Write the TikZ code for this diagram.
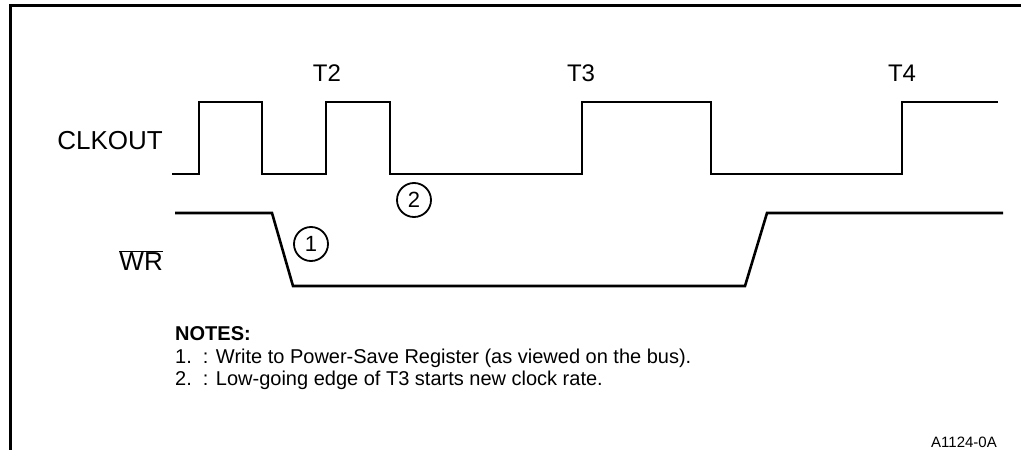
\documentclass[tikz,border=0pt]{standalone}
\usepackage{fontspec}
\setmainfont{Liberation Sans}
\begin{document}
\begin{tikzpicture}[x=1pt, y=-1pt,
  wave/.style={line width=2.6pt, line join=miter},
  frame/.style={line width=3pt},
  sig/.style={font=\fontsize{26}{30}\selectfont, anchor=base east, inner sep=0pt},
  tlab/.style={font=\fontsize{24}{28}\selectfont, anchor=base, inner sep=0pt},
  num/.style={draw, circle, line width=1.8pt, minimum size=34pt, inner sep=0pt,
              font=\fontsize{22}{26}\selectfont},
  note/.style={font=\fontsize{20}{24}\selectfont, anchor=base west, inner sep=0pt}]
  \useasboundingbox (0,0) rectangle (1021,450);
  % frame, only left and top edges show
  \draw[frame] (10,450) -- (10,5) -- (1021,5);
  % signal names
  \node[sig] (clk) at (163,149) {CLKOUT};
  \node[sig] (wr) at (163,270) {$\overline{\mbox{WR}}$};
  % clock states
  \foreach \x/\t in {327/T2, 581/T3, 902/T4}
    \node[tlab] (\t) at (\x,81) {\t};
  % CLKOUT waveform
  \draw[wave] (172,174) -- (199,174) -- (199,102) -- (262,102) -- (262,174)
    -- (326,174) -- (326,102) -- (390,102) -- (390,174)
    -- (582,174) -- (582,102) -- (711,102) -- (711,174)
    -- (902,174) -- (902,102) -- (998,102);
  % WR waveform
  \draw[wave] (175,213) -- (272,213) -- (293,286) -- (745,286) -- (767,213) -- (1003,213);
  % markers
  \node[num] (m1) at (311,244) {1};
  \node[num] (m2) at (414,200) {2};
  % notes
  \node[note, font=\fontsize{20}{24}\selectfont\bfseries] (notes) at (175,340) {NOTES:};
  \node[note] (note1) at (175,363) {1.\ \ : Write to Power-Save Register (as viewed on the bus).};
  \node[note] (note2) at (175,385) {2.\ \ : Low-going edge of T3 starts new clock rate.};
  \node[font=\fontsize{15}{18}\selectfont, anchor=base east, inner sep=0pt] (fig) at (997,447) {A1124-0A};
\end{tikzpicture}
\end{document}
